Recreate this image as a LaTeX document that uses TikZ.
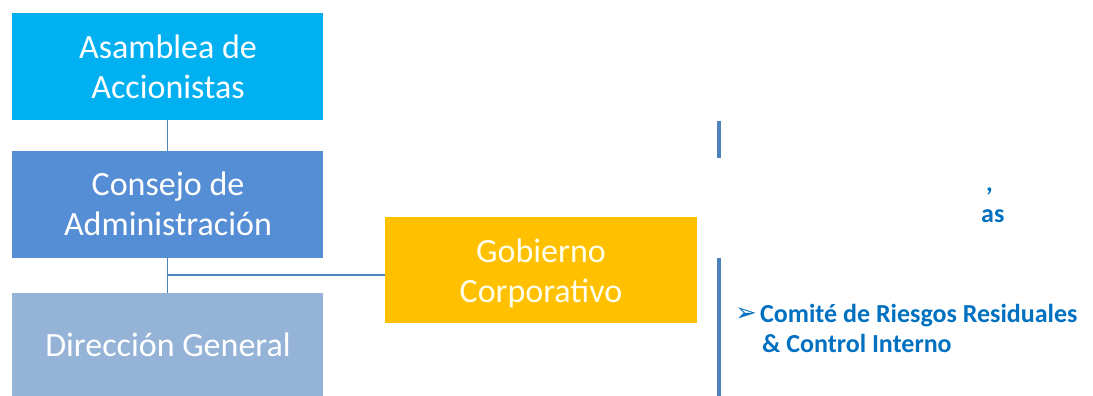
\documentclass[tikz,border=0pt]{standalone}
\usepackage{fontspec}
\setmainfont{Carlito}
\newfontfamily\symfont{DejaVu Sans}
\definecolor{cAsam}{HTML}{00B0F0}
\definecolor{cCons}{HTML}{558ED5}
\definecolor{cDir}{HTML}{95B3D7}
\definecolor{cGob}{HTML}{FFC000}
\definecolor{cLine}{HTML}{4F81BD}
\definecolor{cTxt}{HTML}{0070C0}
\tikzset{
  orgbox/.style={fill=#1, draw=none, inner sep=0pt},
  boxtxt/.style={text=white, align=center, font=\fontsize{34}{40}\selectfont, inner sep=0pt, anchor=base},
  link/.style={draw=cLine, line width=1.2pt},
  bar/.style={draw=cLine, line width=4pt},
  bluetxt/.style={text=cTxt, font=\bfseries\fontsize{26}{30}\selectfont, inner sep=0pt, anchor=base west, align=left}
}
\begin{document}
\begin{tikzpicture}[x=1pt,y=-1pt]
\useasboundingbox (0,0) rectangle (1093,396);
\node[orgbox=cAsam, minimum width=311pt, minimum height=107pt] (asam) at (167.5,66.5) {};
\node[orgbox=cCons, minimum width=311pt, minimum height=107pt] (cons) at (167.5,204.5) {};
\node[orgbox=cDir, minimum width=311pt, minimum height=103pt] (dir) at (167.5,344.5) {};
\node[orgbox=cGob, minimum width=312pt, minimum height=106pt] (gob) at (541,270) {};
\node[boxtxt] (asamt) at (168,99) {Asamblea de\\Accionistas};
\node[boxtxt] (const) at (168,235) {Consejo de\\Administración};
\node[boxtxt] (dirt) at (168,356) {Dirección General};
\node[boxtxt, text=white!92!yellow] (gobt) at (541,302) {Gobierno\\Corporativo};
\draw[link] (asam.south) -- (cons.north);
\draw[link] (cons.south) -- (dir.north);
\coordinate (jj) at (167.5,275);
\draw[link] (jj) -- (gob.west |- jj);
\coordinate (b1t) at (719,121);
\coordinate (b1b) at (719,158);
\coordinate (b2t) at (719,258);
\coordinate (b2b) at (719,396);
\draw[bar] (b1t) -- (b1b);
\draw[bar] (b2t) -- (b2b);
\node[bluetxt] (comma) at (986,191) {,};
\node[bluetxt] (as) at (981,222) {as};
\node[bluetxt] (arrow) at (735,321) {\symfont\fontsize{26}{26}\selectfont ➢};
\node[bluetxt] (c1) at (760,322) {Comité de Riesgos Residuales};
\node[bluetxt] (c2) at (762,352) {\&~Control Interno};
\end{tikzpicture}
\end{document}
